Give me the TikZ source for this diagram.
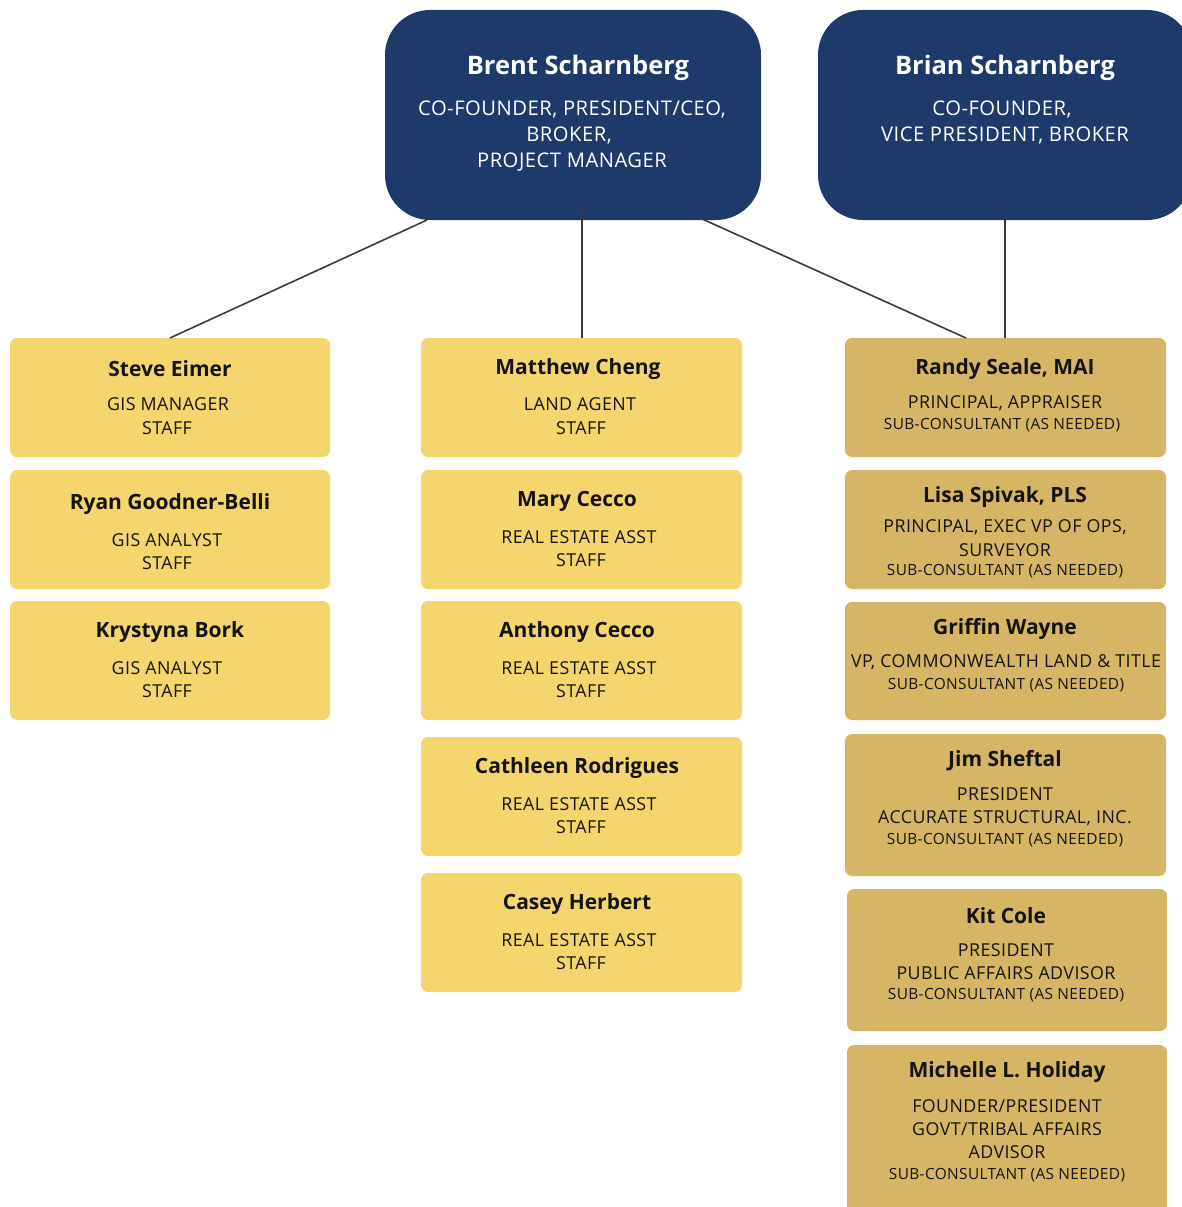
\documentclass[tikz,border=0pt]{standalone}
\usepackage{fontspec}
\setmainfont{Open Sans}
\newfontfamily\capsfont[LetterSpace=2.5]{Open Sans}
\usetikzlibrary{fit}
\definecolor{navy}{HTML}{1E3A6B}
\definecolor{ylw}{HTML}{F5D66E}
\definecolor{gold}{HTML}{D6B664}
\definecolor{ink}{HTML}{141414}
\definecolor{lnk}{HTML}{3A3A3A}
\tikzset{
  topbox/.style={fill=navy, draw=none, rounded corners=45pt, inner sep=0pt},
  staffbox/.style={fill=ylw, draw=none, rounded corners=7pt, inner sep=0pt},
  subbox/.style={fill=gold, draw=none, rounded corners=7pt, inner sep=0pt},
  txt/.style={inner sep=0pt, yshift=-2pt},
  topname/.style={txt, font=\bfseries\fontsize{25.5}{30}\selectfont, text=white},
  toprole/.style={txt, font=\capsfont\fontsize{20.2}{23}\selectfont, text=white},
  nm/.style={txt, font=\bfseries\fontsize{21}{24}\selectfont, text=ink},
  rl/.style={txt, font=\capsfont\fontsize{17.8}{20}\selectfont, text=ink},
  sc/.style={txt, font=\capsfont\fontsize{15.4}{17}\selectfont, text=ink},
  link/.style={draw=lnk, line width=1.6pt}
}
\begin{document}
\begin{tikzpicture}[x=1pt,y=-1pt]
\useasboundingbox (0,0) rectangle (1181,1207);
% top boxes
\node[topbox, fit={(385,10)(761,220)}] (brent) {};
\node[topbox, fit={(818,10)(1192,220)}] (brian) {};
% left column
\node[staffbox, fit={(10,338)(330,457)}] (steve) {};
\node[staffbox, fit={(10,470)(330,589)}] (ryan) {};
\node[staffbox, fit={(10,601)(330,720)}] (kryst) {};
% middle column
\node[staffbox, fit={(421,338)(742,457)}] (matt) {};
\node[staffbox, fit={(421,470)(742,589)}] (mary) {};
\node[staffbox, fit={(421,601)(742,720)}] (anth) {};
\node[staffbox, fit={(421,737)(742,856)}] (cath) {};
\node[staffbox, fit={(421,873)(742,992)}] (casey) {};
% right column
\node[subbox, fit={(845,338)(1166,457)}] (randy) {};
\node[subbox, fit={(845,470)(1166,589)}] (lisa) {};
\node[subbox, fit={(845,602)(1166,720)}] (griff) {};
\node[subbox, fit={(845,734)(1166,876)}] (jim) {};
\node[subbox, fit={(847,889)(1167,1031)}] (kit) {};
\node[subbox, fit={(847,1045)(1167,1220)}] (mich) {};
% connectors
\coordinate (brentL) at (427,220);
\coordinate (brentM) at (582,207);
\coordinate (brentR) at (700,218);
\draw[link] (brentL) -- (168,338 -| steve.north);
\draw[link] (brentM) -- (brentM |- matt.north);
\draw[link] (brentR) -- (966,338);
\draw[link] (brian.south -| 1005,0) -- (randy.north -| 1005,0);
% top texts
\node[topname] (brent-n) at (578,66) {Brent Scharnberg};
\node[toprole] (brent-r1) at (572,107) {CO-FOUNDER, PRESIDENT/CEO,};
\node[toprole] (brent-r2) at (569,133) {BROKER,};
\node[toprole] (brent-r3) at (572,160) {PROJECT MANAGER};
\node[topname] (brian-n) at (1005,66) {Brian Scharnberg};
\node[toprole] (brian-r1) at (1002,107) {CO-FOUNDER,};
\node[toprole] (brian-r2) at (1005,133) {VICE PRESIDENT, BROKER};
% left texts
\node[nm] (steve-n) at (170,367) {Steve Eimer};
\node[rl] (steve-r1) at (168,402) {GIS MANAGER};
\node[rl] (steve-r2) at (167,426) {STAFF};
\node[nm] (ryan-n) at (170,502) {Ryan Goodner-Belli};
\node[rl] (ryan-r1) at (167,538) {GIS ANALYST};
\node[rl] (ryan-r2) at (167,561) {STAFF};
\node[nm] (kryst-n) at (170,630) {Krystyna Bork};
\node[rl] (kryst-r1) at (167,666) {GIS ANALYST};
\node[rl] (kryst-r2) at (167,689) {STAFF};
% middle texts
\node[nm] (matt-n) at (578,367) {Matthew Cheng};
\node[rl] (matt-r1) at (580,402) {LAND AGENT};
\node[rl] (matt-r2) at (581,426) {STAFF};
\node[nm] (mary-n) at (577,499) {Mary Cecco};
\node[rl] (mary-r1) at (579,535) {REAL ESTATE ASST};
\node[rl] (mary-r2) at (581,558) {STAFF};
\node[nm] (anth-n) at (577,630) {Anthony Cecco};
\node[rl] (anth-r1) at (579,666) {REAL ESTATE ASST};
\node[rl] (anth-r2) at (581,689) {STAFF};
\node[nm] (cath-n) at (577,766) {Cathleen Rodrigues};
\node[rl] (cath-r1) at (579,802) {REAL ESTATE ASST};
\node[rl] (cath-r2) at (581,825) {STAFF};
\node[nm] (casey-n) at (577,902) {Casey Herbert};
\node[rl] (casey-r1) at (579,938) {REAL ESTATE ASST};
\node[rl] (casey-r2) at (581,961) {STAFF};
% right texts
\node[nm] (randy-n) at (1005,367) {Randy Seale, MAI};
\node[rl] (randy-r1) at (1005,401) {PRINCIPAL, APPRAISER};
\node[sc] (randy-r2) at (1002,423) {SUB-CONSULTANT (AS NEEDED)};
\node[nm] (lisa-n) at (1005,495) {Lisa Spivak, PLS};
\node[rl] (lisa-r1) at (1005,525) {PRINCIPAL, EXEC VP OF OPS,};
\node[rl] (lisa-r2) at (1005,548) {SURVEYOR};
\node[sc] (lisa-r3) at (1005,569) {SUB-CONSULTANT (AS NEEDED)};
\node[nm] (griff-n) at (1005,627) {Griffin Wayne};
\node[rl] (griff-r1) at (1006,660) {VP, COMMONWEALTH LAND \& TITLE};
\node[sc] (griff-r2) at (1006,683) {SUB-CONSULTANT (AS NEEDED)};
\node[nm] (jim-n) at (1005,759) {Jim Sheftal};
\node[rl] (jim-r1) at (1005,792) {PRESIDENT};
\node[rl] (jim-r2) at (1005,816) {ACCURATE STRUCTURAL, INC.};
\node[sc] (jim-r3) at (1005,838) {SUB-CONSULTANT (AS NEEDED)};
\node[nm] (kit-n) at (1006,914) {Kit Cole};
\node[rl] (kit-r1) at (1006,948) {PRESIDENT};
\node[rl] (kit-r2) at (1006,971) {PUBLIC AFFAIRS ADVISOR};
\node[sc] (kit-r3) at (1006,993) {SUB-CONSULTANT (AS NEEDED)};
\node[nm] (mich-n) at (1007,1070) {Michelle L. Holiday};
\node[rl] (mich-r1) at (1007,1104) {FOUNDER/PRESIDENT};
\node[rl] (mich-r2) at (1007,1127) {GOVT/TRIBAL AFFAIRS};
\node[rl] (mich-r3) at (1007,1150) {ADVISOR};
\node[sc] (mich-r4) at (1007,1173) {SUB-CONSULTANT (AS NEEDED)};
\end{tikzpicture}
\end{document}
